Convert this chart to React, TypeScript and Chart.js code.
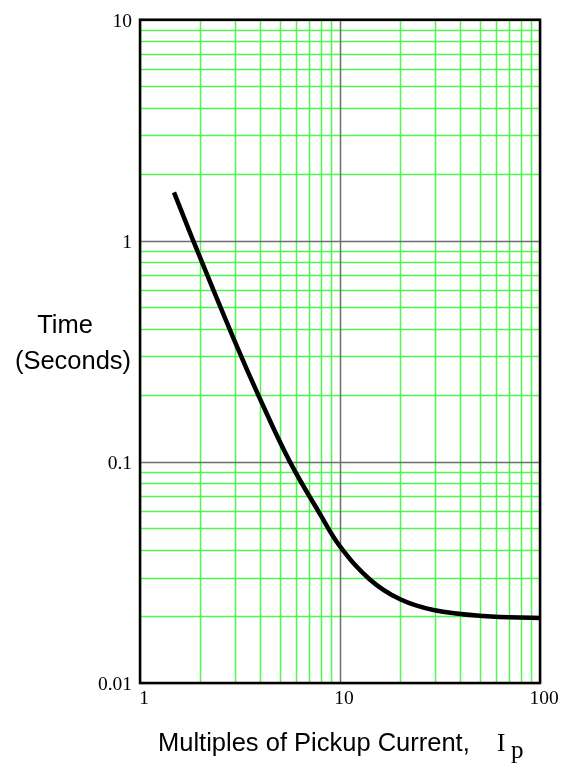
import React, { useEffect, useRef } from "react";
import { Chart, registerables } from "chart.js";

Chart.register(...registerables);

// Curve (Multiples of pickup current vs time in seconds)
const multiples = [1.479, 1.847, 2.985, 4, 5.62, 8, 10, 14.1, 20, 29.3, 52, 100];
const seconds = [1.657, 1.0, 0.349, 0.191, 0.1, 0.0575, 0.0415, 0.0294, 0.0239, 0.0214, 0.0201, 0.0197];

const xTickLabels = [1, 10, 100];
const yTickLabels = [0.01, 0.1, 1, 10];
const gridSteps = [1, 2, 3, 4, 5, 6, 7, 8, 9];

const xTitle = "Multiples of Pickup Current,";
const xTitleSymbol = "I";
const xTitleSub = "p";
const yTitleLines = ["Time", "(Seconds)"];

const GREEN = "rgb(80,245,80)";
const GRAY = "rgb(110,110,110)";

const isPow10 = (v: number) => Math.abs(Math.log10(v) - Math.round(Math.log10(v))) < 1e-6;
const findLabel = (v: number, list: number[]) => list.find((t) => Math.abs(t - v) / t < 1e-6);

// grid values: 1..9 times each labelled decade, up to the last label
const gridValues = (labels: number[]) => {
  const out: number[] = [];
  for (let i = 0; i < labels.length - 1; i++) gridSteps.forEach((s) => out.push(labels[i] * s));
  out.push(labels[labels.length - 1]);
  return out;
};

export default function App() {
  const ref = useRef<HTMLCanvasElement | null>(null);

  useEffect(() => {
    if (!ref.current) return;
    const framePlugin = {
      id: "frame",
      beforeDatasetsDraw(chart: any) {
        const { ctx, chartArea } = chart;
        const xs = chart.scales.x;
        const ys = chart.scales.y;
        ctx.save();
        ctx.lineWidth = 1.5;
        const drawPass = (major: boolean) => {
          ctx.strokeStyle = major ? GRAY : GREEN;
          ctx.beginPath();
          gridValues(xTickLabels).forEach((v) => {
            if (isPow10(v) !== major) return;
            const px = Math.round(xs.getPixelForValue(v)) + 0.5;
            ctx.moveTo(px, chartArea.top);
            ctx.lineTo(px, chartArea.bottom);
          });
          gridValues(yTickLabels).forEach((v) => {
            if (isPow10(v) !== major) return;
            const py = Math.round(ys.getPixelForValue(v)) + 0.5;
            ctx.moveTo(chartArea.left, py);
            ctx.lineTo(chartArea.right, py);
          });
          ctx.stroke();
        };
        drawPass(false);
        drawPass(true);
        ctx.strokeStyle = "#000";
        ctx.lineWidth = 2.5;
        ctx.strokeRect(chartArea.left, chartArea.top, chartArea.right - chartArea.left, chartArea.bottom - chartArea.top);
        ctx.restore();
      },
      afterDraw(chart: any) {
        const { ctx } = chart;
        ctx.save();
        ctx.fillStyle = "#000";
        ctx.textBaseline = "alphabetic";
        ctx.font = "25.5px 'Liberation Sans', Arial, sans-serif";
        ctx.textAlign = "center";
        ctx.fillText(yTitleLines[0], 65, 333);
        ctx.fillText(yTitleLines[1], 73, 369);
        ctx.textAlign = "left";
        ctx.fillText(xTitle, 158, 751);
        ctx.font = "25px 'Liberation Serif', 'Times New Roman', serif";
        ctx.fillText(xTitleSymbol, 497, 751);
        ctx.fillText(xTitleSub, 511, 758);
        ctx.restore();
      },
    };

    const chart = new Chart(ref.current, {
      type: "line",
      data: {
        datasets: [
          {
            data: multiples.map((m, i) => ({ x: m, y: seconds[i] })),
            borderColor: "#000",
            borderWidth: 4.5,
            pointRadius: 0,
            tension: 0.4,
            fill: false,
            clip: false as any,
          },
        ],
      },
      options: {
        animation: false,
        responsive: false,
        maintainAspectRatio: false,
        devicePixelRatio: 1,
        layout: { padding: { top: 13, right: 36, left: 0, bottom: 0 } },
        plugins: { legend: { display: false }, tooltip: { enabled: false } },
        scales: {
          x: {
            type: "logarithmic",
            min: 1,
            max: 100,
            border: { display: false },
            afterBuildTicks: (axis: any) => {
              axis.ticks = xTickLabels.map((v) => ({ value: v }));
            },
            grid: { display: false, drawTicks: false },
            ticks: {
              autoSkip: false,
              maxRotation: 0,
              padding: 4,
              labelOffset: 4,
              color: "#000",
              font: { family: "'Liberation Serif', 'Times New Roman', serif", size: 19.5 },
              callback: (v: any) => {
                const l = findLabel(Number(v), xTickLabels);
                return l !== undefined ? String(l) : "";
              },
            },
            afterFit: (s: any) => {
              s.height = 82;
            },
          },
          y: {
            type: "logarithmic",
            min: 0.01,
            max: 10,
            border: { display: false },
            afterBuildTicks: (axis: any) => {
              axis.ticks = yTickLabels.map((v) => ({ value: v }));
            },
            grid: { display: false, drawTicks: false },
            ticks: {
              autoSkip: false,
              padding: 8,
              labelOffset: 2,
              color: "#000",
              font: { family: "'Liberation Serif', 'Times New Roman', serif", size: 19.5 },
              callback: (v: any) => {
                const l = findLabel(Number(v), yTickLabels);
                return l !== undefined ? String(l) : "";
              },
            },
            afterFit: (s: any) => {
              s.width = 140;
            },
          },
        },
      },
      plugins: [framePlugin],
    });
    return () => chart.destroy();
  }, []);

  return (
    <div style={{ position: "absolute", left: 0, top: 0, width: 576, height: 765, background: "#fff" }}>
      <canvas ref={ref} width={576} height={765} style={{ width: 576, height: 765, display: "block" }} />
    </div>
  );
}
